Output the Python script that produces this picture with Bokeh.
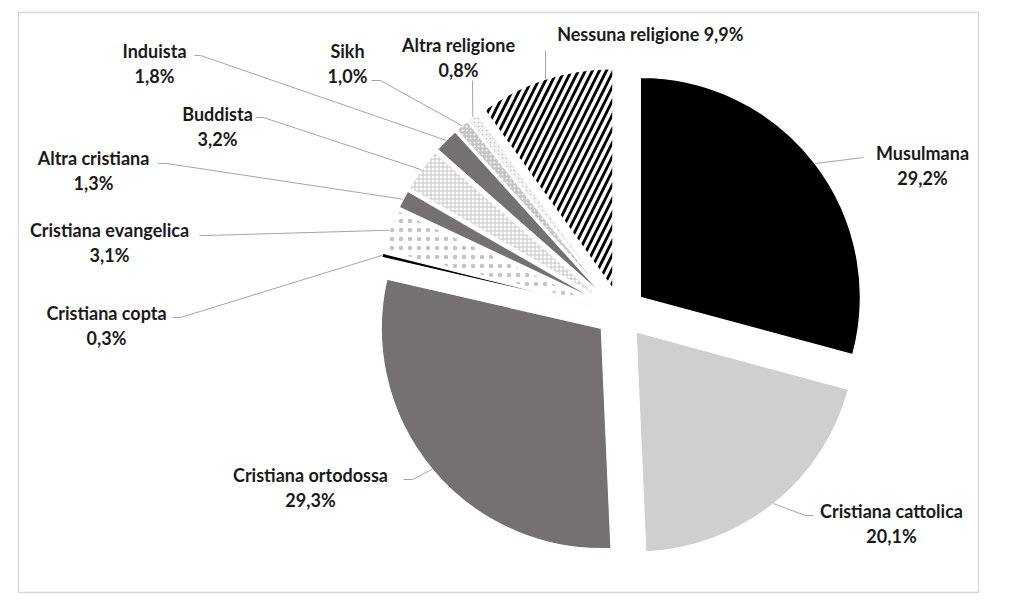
import math
from bokeh.plotting import figure
from bokeh.models import ColumnDataSource, Range1d
from bokeh.core.properties import value
from bokeh.embed import file_html
from bokeh.resources import INLINE

# ---------------- data ----------------
categories = ["Musulmana", "Cristiana cattolica", "Cristiana ortodossa", "Cristiana copta",
              "Cristiana evangelica", "Altra cristiana", "Buddista", "Induista", "Sikh",
              "Altra religione", "Nessuna religione"]
shares = [29.2, 20.1, 29.3, 0.3, 3.1, 1.3, 3.2, 1.8, 1.0, 0.8, 9.9]

# ---------------- styles ----------------
fill_colors = ["#000000", "#d0cece", "#767171", "#000000", "#ffffff", "#767171",
               "#ffffff", "#767171", "#c4c4c4", "#f4f4f4", "#ffffff"]
hatch_patterns = [" ", " ", " ", " ", ".", " ", "+", " ", ".", ".", "/"]
hatch_colors = ["#000000", "#000000", "#000000", "#000000", "#c4c4c4", "#000000",
                "#c4c4c4", "#000000", "#ffffff", "#d0d0d0", "#000000"]
hatch_scales = [8, 8, 8, 8, 9, 8, 4, 8, 4, 4, 14]
hatch_weights = [1, 1, 1, 1, 1, 1, 1, 1, 1, 1, 2.8]

# ---------------- layout (page pixels) ----------------
W, H = 1008, 594
CX, CY = 620, 312          # pie centre on the page
R = 220                    # radius
EXPLODE = 25               # offset of each slice along its bisector

# label centre x, first-line y, leader start (x, y), elbow x
label_cx = [922, 891, 310, 106, 109, 93, 217, 154, 347, 458, 652]
label_y = [152, 510, 474, 312, 229, 157, 113, 50, 50, 44, 33]
lead_x0 = [863, 813, 403, 172, 199, 158, 255, 194, 371, 472, 545]
lead_y0 = [157, 515, 479, 317, 235, 163, 117, 55, 80, 80, 50]
lead_x1 = [863, 805, 412, 180, 206, 166, 263, 200, 380, 472, 545]


def fx(px):
    return px


def fy(py):
    return H - py


p = figure(width=W, height=H, output_backend="svg", toolbar_location=None,
           x_range=Range1d(0, W), y_range=Range1d(0, H),
           x_axis_type=None, y_axis_type=None, min_border=0)
p.grid.visible = False
p.outline_line_color = None
p.background_fill_color = "white"
p.border_fill_color = "white"

# chart-area border
p.quad(left=[fx(18)], right=[fx(978)], bottom=[fy(592)], top=[fy(12)],
       fill_color=None, line_color="#d9d9d9", line_width=1.3)

# slices
total = sum(shares)
xs, ys, starts, ends, mids = [], [], [], [], []
acc = 0.0
for s in shares:
    a0 = acc / total * 360.0
    acc += s
    a1 = acc / total * 360.0
    m = math.radians((a0 + a1) / 2.0)
    # clockwise-from-12 -> math angle
    xs.append(fx(CX) + EXPLODE * math.sin(m))
    ys.append(fy(CY) + EXPLODE * math.cos(m))
    starts.append(math.radians(90.0 - a1))
    ends.append(math.radians(90.0 - a0))
    mids.append(m)

src = ColumnDataSource(dict(x=xs, y=ys, start=starts, end=ends, fill=fill_colors,
                            hp=hatch_patterns, hc=hatch_colors, hs=hatch_scales,
                            hw=hatch_weights))
p.wedge(x="x", y="y", radius=R, start_angle="start", end_angle="end",
        direction="anticlock", source=src, fill_color="fill", line_color="white",
        line_width=1.2, hatch_pattern="hp", hatch_color="hc", hatch_scale="hs",
        hatch_weight="hw")

# leader lines
lxs, lys = [], []
for i, m in enumerate(mids):
    ex = xs[i] + R * math.sin(m)
    ey = ys[i] + R * math.cos(m)
    lxs.append([fx(lead_x0[i]), fx(lead_x1[i]), ex])
    lys.append([fy(lead_y0[i]), fy(lead_y0[i]), ey])
p.multi_line(lxs, lys, line_color="#a6a6a6", line_width=1)

# labels
pct = [f"{v:.1f}".replace(".", ",") + "%" for v in shares]
name_x, name_y, name_t = [], [], []
val_x, val_y, val_t = [], [], []
for i, c in enumerate(categories):
    if c == "Nessuna religione":
        name_x.append(fx(label_cx[i]))
        name_y.append(fy(label_y[i]))
        name_t.append(c + "  " + pct[i])
    else:
        name_x.append(fx(label_cx[i]))
        name_y.append(fy(label_y[i]))
        name_t.append(c)
        val_x.append(fx(label_cx[i]))
        val_y.append(fy(label_y[i] + 25))
        val_t.append(pct[i])

for X, Y, T in ((name_x, name_y, name_t), (val_x, val_y, val_t)):
    p.text(x=X, y=Y, text=T, text_font=value("Lato"), text_font_style="bold",
           text_font_size="18px", text_color="#1a1a1a", text_align="center",
           text_baseline="middle")

open("out.html", "w").write(file_html(p, INLINE))
